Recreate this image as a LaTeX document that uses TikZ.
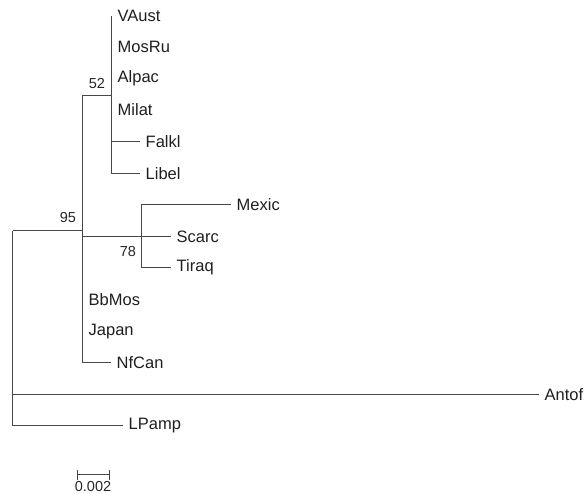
\documentclass[tikz,border=0pt]{standalone}
\usepackage{fontspec}
\setmainfont{Liberation Sans}
\begin{document}
\begin{tikzpicture}[x=1pt,y=-1pt,
  branch/.style={draw=black!72,line width=1.8pt},
  leaf/.style={anchor=west,inner xsep=6pt,inner ysep=0pt,text=black!88,font=\fontsize{16.5}{18}\selectfont},
  boot/.style={inner sep=0pt,text=black!85,font=\fontsize{14.5}{16}\selectfont}]
\useasboundingbox (0,0) rectangle (588,493);

% internal nodes
\coordinate (root) at (12.5,230.5);
\coordinate (c95) at (82.5,230.5);
\coordinate (c52) at (111.5,95.5);
\coordinate (c78) at (141.5,236.5);

% leaves
\node[leaf] (VAust) at (111.5,15.5) {VAust};
\node[leaf] (MosRu) at (111.5,46.5) {MosRu};
\node[leaf] (Alpac) at (111.5,78.5) {Alpac};
\node[leaf] (Milat) at (111.5,109.5) {Milat};
\node[leaf] (Falkl) at (139.5,141.5) {Falkl};
\node[leaf] (Libel) at (139.5,173.5) {Libel};
\node[leaf] (Mexic) at (230.5,204.5) {Mexic};
\node[leaf] (Scarc) at (170.5,236.5) {Scarc};
\node[leaf] (Tiraq) at (170.5,267.5) {Tiraq};
\node[leaf] (BbMos) at (82.5,299.5) {BbMos};
\node[leaf] (Japan) at (82.5,331.5) {Japan};
\node[leaf] (NfCan) at (110.5,362.5) {NfCan};
\node[leaf] (Antof) at (538.5,394.5) {Antof};
\node[leaf] (LPamp) at (122.5,425.5) {LPamp};

% branches
\draw[branch] (root) -- (c95);
\draw[branch] (root) |- (Antof.west);
\draw[branch] (root) |- (LPamp.west);

\draw[branch] (c95) |- (c52);
\draw[branch] (c95) |- (c78);
\draw[branch] (c95) |- (NfCan.west);

\draw[branch] (c52) |- (VAust.west);
\draw[branch] (c52) |- (Falkl.west);
\draw[branch] (c52) |- (Libel.west);

\draw[branch] (c78) |- (Mexic.west);
\draw[branch] (c78) -- (Scarc.west);
\draw[branch] (c78) |- (Tiraq.west);

% bootstrap values
\node[boot] (b95) at (68,218) {95};
\node[boot] (b52) at (97,84) {52};
\node[boot] (b78) at (128,252) {78};

% scale bar
\coordinate (s1) at (77.5,474.5);
\coordinate (s2) at (109.5,474.5);
\draw[branch,line width=1.3pt] (s1) -- (s2);
\draw[branch,line width=1.3pt] ([yshift=-5]s1) -- ([yshift=5]s1);
\draw[branch,line width=1.3pt] ([yshift=-5]s2) -- ([yshift=5]s2);
\node[boot,anchor=north] (sc) at (93,481) {0.002};
\end{tikzpicture}
\end{document}
